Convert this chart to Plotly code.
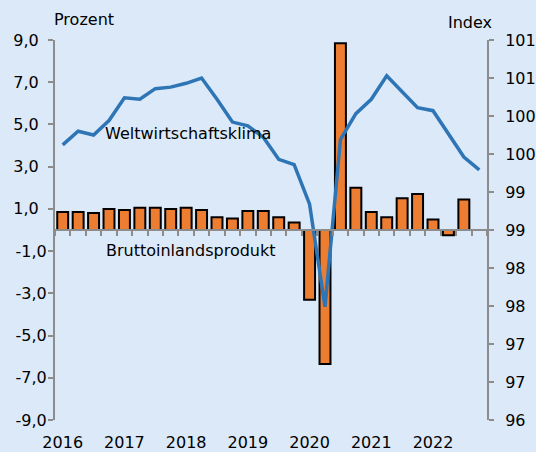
import plotly.graph_objects as go

# quarters 2016Q1 .. 2022Q4
years = [2016, 2017, 2018, 2019, 2020, 2021, 2022]
quarters = [f"{y}Q{q}" for y in years for q in range(1, 5)]

# Bruttoinlandsprodukt, Veraenderung gg. Vorquartal in Prozent (linke Achse)
bip = [0.85, 0.85, 0.8, 1.0, 0.95, 1.05, 1.05, 1.0, 1.05, 0.95, 0.6, 0.55,
       0.9, 0.9, 0.6, 0.35, -3.3, -6.35, 8.85, 2.0, 0.85, 0.6, 1.5, 1.7,
       0.5, -0.25, 1.45, None]

# Weltwirtschaftsklima, Index (rechte Achse)
klima = [99.62, 99.80, 99.75, 99.94, 100.24, 100.22, 100.36, 100.38, 100.43, 100.50,
         100.22, 99.92, 99.87, 99.72, 99.43, 99.36, 98.84, 97.49, 99.69, 100.03,
         100.22, 100.53, 100.32, 100.11, 100.07, 99.76, 99.46, 99.29]

# left axis ticks, Excel style: positive numbers padded on the right
left_ticks = [-9, -7, -5, -3, -1, 1, 3, 5, 7, 9]
left_labels = ["-9,0", "-7,0", "-5,0", "-3,0", "-1,0",
               "1,0\u2002", "3,0\u2002", "5,0\u2002", "7,0\u2002", "9,0\u2002"]

bg = "#DCE9F8"
grey = "#8C8C8C"
font = "DejaVu Sans"

fig = go.Figure()
fig.add_trace(go.Bar(x=quarters, y=bip, marker=dict(color="#ED7D31", line=dict(color="black", width=2)),
                     hoverinfo="x+y", showlegend=False))
fig.add_trace(go.Scatter(x=quarters, y=klima, yaxis="y2", mode="lines",
                         line=dict(color="#2E75B6", width=3.5), showlegend=False))
# invisible helper trace so the zero-line axis with quarter ticks gets drawn
fig.add_trace(go.Scatter(x=quarters, y=[0] * len(quarters), xaxis="x2", mode="markers",
                         marker=dict(opacity=0), hoverinfo="skip", showlegend=False))

axis_style = dict(showline=True, linecolor=grey, linewidth=2,
                  ticks="outside", ticklen=5, tickwidth=2, tickcolor=grey,
                  showgrid=False, zeroline=False, automargin=False)

fig.update_layout(
    width=536, height=452,
    margin=dict(l=55, r=49, t=40, b=32),
    paper_bgcolor=bg, plot_bgcolor=bg,
    bargap=0.29,
    font=dict(family=font, size=16, color="black"),
    xaxis=dict(type="category", range=[-0.5, len(quarters) - 0.5],
               tickvals=quarters[::4], ticktext=[str(y) for y in years],
               showline=False, ticks="", showgrid=False, zeroline=False,
               automargin=False, ticklabelstandoff=11),
    xaxis2=dict(type="category", overlaying="x", anchor="free", position=0.5,
                range=[-0.5, len(quarters) - 0.5], tickson="boundaries",
                tickmode="linear", tick0=0, dtick=1,
                showticklabels=False, **axis_style),
    yaxis=dict(range=[-9, 9], tickmode="array", tickvals=left_ticks, ticktext=left_labels,
               ticklabelstandoff=-2, **axis_style),
    yaxis2=dict(range=[96, 101], tick0=96, dtick=0.5, tickformat=".0f",
                overlaying="y", side="right", ticklabelstandoff=8, **axis_style),
    annotations=[
        dict(text="Prozent", xref="paper", yref="paper", x=-0.007, y=1.054,
             xanchor="left", yanchor="middle", showarrow=False),
        dict(text="Index", xref="paper", yref="paper", x=1.016, y=1.047,
             xanchor="right", yanchor="middle", showarrow=False),
        dict(text="Weltwirtschaftsklima", xref="paper", yref="paper", x=0.111, y=0.755,
             xanchor="left", yanchor="middle", showarrow=False),
        dict(text="Bruttoinlandsprodukt", xref="paper", yref="paper", x=0.113, y=0.445,
             xanchor="left", yanchor="middle", showarrow=False),
    ],
)

fig.write_html("out.html", config={"displayModeBar": False},
               post_script="document.body.style.margin='0';")
